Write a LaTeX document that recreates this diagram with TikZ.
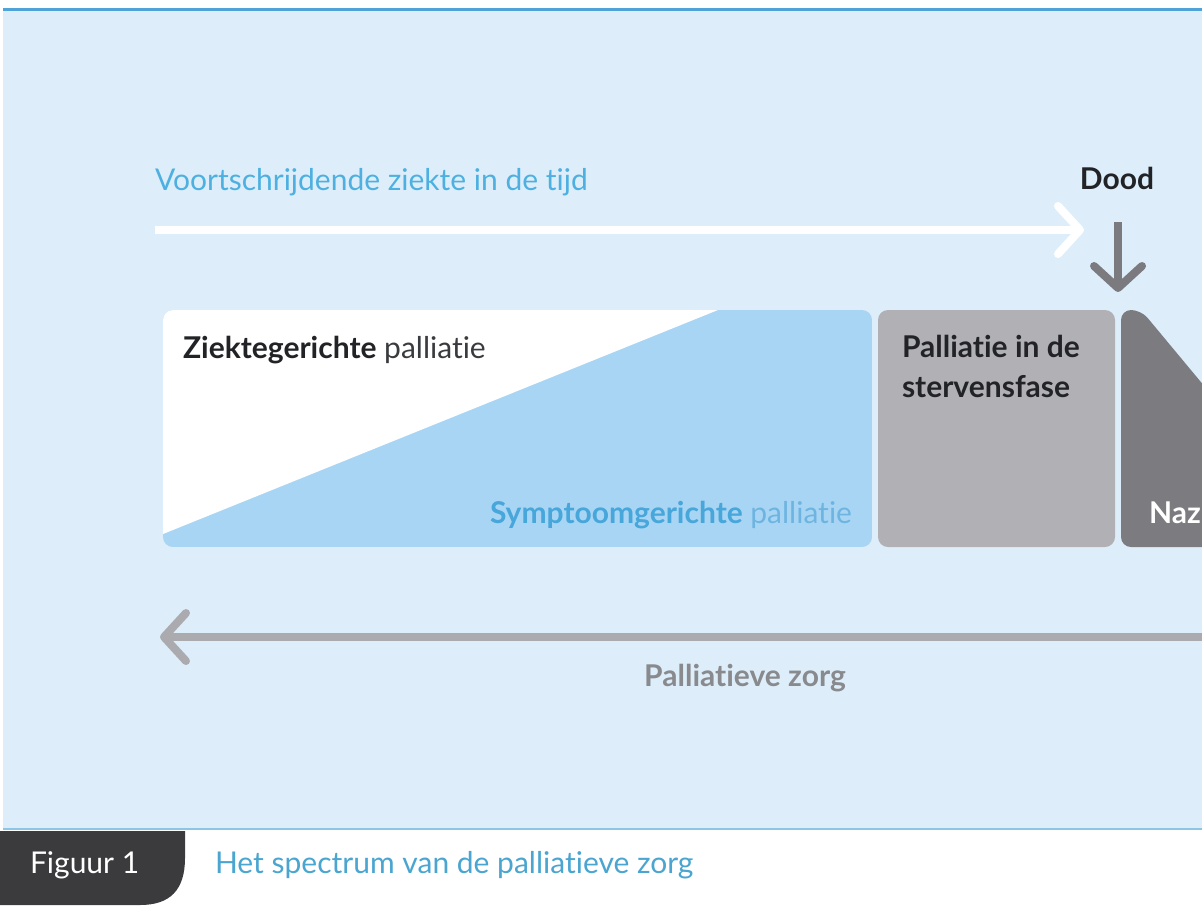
\documentclass[tikz,border=0pt]{standalone}
\usepackage{fontspec}
\setmainfont{Lato}[Ligatures=NoCommon]
\usetikzlibrary{arrows.meta}
\definecolor{bgblue}{HTML}{DDEEFA}
\definecolor{topblue}{HTML}{4FA3D9}
\definecolor{botblue}{HTML}{8CC6E6}
\definecolor{symblue}{HTML}{A9D5F4}
\definecolor{symtext}{HTML}{47A6DA}
\definecolor{symtextlight}{HTML}{6DB5E0}
\definecolor{timetext}{HTML}{4DB0E0}
\definecolor{graybox}{HTML}{B1B1B5}
\definecolor{darkbox}{HTML}{7B7B80}
\definecolor{downarrow}{HTML}{7B7B7F}
\definecolor{leftarrow}{HTML}{ABABAF}
\definecolor{pztext}{HTML}{898A8E}
\definecolor{tabdark}{HTML}{3B3B3D}
\definecolor{captext}{HTML}{4AA5D0}
\definecolor{inktext}{HTML}{222326}
\definecolor{ink2}{HTML}{3A3B3E}
\tikzset{
  lbl/.style={inner sep=0pt, outer sep=0pt, font=\fontsize{15}{20}\selectfont},
  lblb/.style={inner sep=0pt, outer sep=0pt, font=\fontsize{15}{20}\selectfont\bfseries},
  chev/.style={line width=4pt, -{Straight Barb[length=11pt,width=24pt,round]}},
}
\begin{document}
\begin{tikzpicture}[x=0.5pt,y=-0.5pt]
\useasboundingbox (0,0) rectangle (1202,905);
\clip (0,0) rectangle (1202,905);
\fill[white] (0,0) rectangle (1202,905);
\fill[bgblue] (3,9) rectangle (1202,829);
\draw[topblue, line width=1.5pt] (3,9) -- (1202,9);
\draw[botblue, line width=1pt] (3,829) -- (1202,829);

% time arrow
\node[lbl, anchor=base west, text=timetext] (tijd) at (155,190) {Voortschrijdende ziekte in de tijd};
\coordinate (ts) at (155,230);
\coordinate (te) at (1084,230);
\draw[white, chev] (ts) -- (te);

% Dood
\node[lblb, anchor=base, text=inktext] (dood) at (1117,189) {Dood};
\coordinate (ds) at (1118,222);
\coordinate (de) at (1118,292);
\draw[downarrow, chev] (ds) -- (de);

% box 1
\begin{scope}
\clip[rounded corners=5pt] (163,310) rectangle (872,547);
\fill[symblue] (163,310) rectangle (872,547);
\fill[white] (163,310) -- (718,310) -- (163,534) -- cycle;
\end{scope}
\node[lbl, anchor=base west, text=ink2] (ziekte) at (183,358) {\textbf{\color{inktext}Ziektegerichte} palliatie};
\node[lbl, anchor=base east, text=symtextlight] (symp) at (852,523) {\textbf{\color{symtext}Symptoomgerichte} palliatie};

% box 2
\fill[graybox, rounded corners=5pt] (878,310) rectangle (1115,547);
\node[lblb, anchor=base west, text=inktext, align=left] (sterf) at (902,397) {Palliatie in de\\stervensfase};

% box 3
\fill[darkbox] (1215,547) [rounded corners=5pt] -- (1121,547) -- (1121,310) -- (1141,310) [sharp corners] -- (1215,399) -- cycle;
\node[lblb, anchor=base west, text=white] (naz) at (1149,523) {Naz};

% palliatieve zorg arrow
\coordinate (ps) at (1210,637);
\coordinate (pe) at (160,637);
\draw[leftarrow, chev] (ps) -- (pe);
\node[lblb, anchor=base, text=pztext] (pz) at (745,686) {Palliatieve zorg};

% bottom tab
\fill[tabdark] (0,831) -- (185,831) -- (185,858) .. controls (185,890) and (170,905) .. (140,905) -- (0,905) -- cycle;
\node[lbl, anchor=base west, text=white] (fig) at (30,873) {Figuur 1};
\node[lbl, anchor=base west, text=captext] (cap) at (215,873) {Het spectrum van de palliatieve zorg};
\end{tikzpicture}
\end{document}
